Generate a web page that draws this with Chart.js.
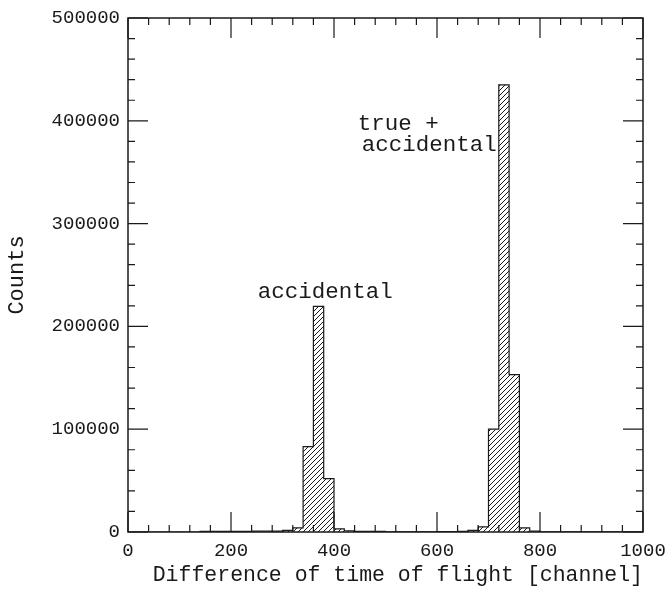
<!DOCTYPE html>
<html>
<head>
<meta charset="utf-8">
<script src="https://cdn.jsdelivr.net/npm/chart.js@4.4.1/dist/chart.umd.min.js"></script>
<style>
  html, body { margin: 0; padding: 0; background: #fff; }
  #wrap { width: 667px; height: 592px; }
</style>
</head>
<body>
<div id="wrap"><canvas id="tofChart" width="667" height="592"></canvas></div>
<script>
// Histogram data: bin left edges [channel] and counts per bin (bin width 20)
const binEdges = [
    0, 20, 40, 60, 80, 100, 120, 140, 160, 180,
    200, 220, 240, 260, 280, 300, 320, 340, 360, 380,
    400, 420, 440, 460, 480, 500, 520, 540, 560, 580,
    600, 620, 640, 660, 680, 700, 720, 740, 760, 780,
    800, 820, 840, 860, 880, 900, 920, 940, 960, 980, 1000
];
const binCounts = [
    0, 0, 0, 0, 0, 0, 0, 600, 600, 700,
    700, 700, 800, 800, 900, 1500, 4000, 83000, 219500, 52000,
    3000, 1200, 700, 600, 600, 200, 200, 200, 200, 200,
    300, 500, 600, 1500, 5000, 100000, 435000, 153000, 4000, 800,
    100, 100, 100, 100, 100, 100, 100, 100, 100, 100
];

// Axis ticks
const xTickLabels = [0, 200, 400, 600, 800, 1000];
const yTickLabels = [0, 100000, 200000, 300000, 400000, 500000];
const xMinorStep = 40;
const yMinorStep = 20000;

// Text labels on the plot
const annotations = [
    { lines: ["accidental"], x: 252, y: 233000 },
    { lines: ["true +", "accidental"], x: 446, y: 397000 }
];

const FONT = "'Liberation Mono', 'DejaVu Sans Mono', monospace";
const INK = "#1a1a1a";

// Build histogram points (value holds from edge to next edge)
const histPoints = binEdges.map((edge, i) => ({
    x: edge,
    y: i < binCounts.length ? binCounts[i] : 0
}));

// Diagonal hatch pattern
function makeHatch() {
    const size = 5;
    const c = document.createElement("canvas");
    c.width = size;
    c.height = size;
    const g = c.getContext("2d");
    g.strokeStyle = INK;
    g.lineWidth = 1;
    g.beginPath();
    g.moveTo(0, size);
    g.lineTo(size, 0);
    g.moveTo(-1, 1);
    g.lineTo(1, -1);
    g.moveTo(size - 1, size + 1);
    g.lineTo(size + 1, size - 1);
    g.stroke();
    return g.createPattern(c, "repeat");
}

// Frame with inward ticks on all four sides + annotations
const framePlugin = {
    id: "frame",
    afterDraw(chart) {
        const { ctx, chartArea: a, scales } = chart;
        const xs = scales.x, ys = scales.y;
        ctx.save();
        ctx.strokeStyle = INK;
        ctx.lineWidth = 1.5;
        ctx.strokeRect(a.left, a.top, a.right - a.left, a.bottom - a.top);

        ctx.lineWidth = 1.2;
        ctx.beginPath();
        for (let v = xs.min; v <= xs.max; v += xMinorStep) {
            const px = xs.getPixelForValue(v);
            const len = xTickLabels.includes(v) ? 20 : 7;
            ctx.moveTo(px, a.bottom); ctx.lineTo(px, a.bottom - len);
            ctx.moveTo(px, a.top); ctx.lineTo(px, a.top + len);
        }
        for (let v = ys.min; v <= ys.max; v += yMinorStep) {
            const py = ys.getPixelForValue(v);
            const len = yTickLabels.includes(v) ? 20 : 7;
            ctx.moveTo(a.left, py); ctx.lineTo(a.left + len, py);
            ctx.moveTo(a.right, py); ctx.lineTo(a.right - len, py);
        }
        ctx.stroke();

        ctx.fillStyle = INK;
        ctx.font = "22.5px " + FONT;
        ctx.textAlign = "left";
        ctx.textBaseline = "middle";
        annotations.forEach((ann) => {
            const px = xs.getPixelForValue(ann.x);
            const py = ys.getPixelForValue(ann.y);
            ann.lines.forEach((line, i) => {
                ctx.fillText(line, px + (i > 0 ? 4 : 0), py + i * 21);
            });
        });
        ctx.restore();
    }
};

const ctx = document.getElementById("tofChart").getContext("2d");
new Chart(ctx, {
    type: "line",
    data: {
        datasets: [{
            data: histPoints,
            stepped: "before",
            borderColor: INK,
            borderWidth: 1.2,
            backgroundColor: makeHatch(),
            fill: "origin",
            pointRadius: 0
        }]
    },
    options: {
        responsive: false,
        animation: false,
        layout: { padding: { top: 18, right: 24, left: 0, bottom: 0 } },
        plugins: { legend: { display: false }, tooltip: { enabled: false } },
        scales: {
            x: {
                type: "linear",
                min: 0,
                max: 1000,
                grid: { display: false, drawTicks: false },
                border: { display: false },
                afterBuildTicks: (s) => { s.ticks = xTickLabels.map((v) => ({ value: v })); },
                afterFit: (s) => { s.height = 60; s.paddingLeft = 0; s.paddingRight = 0; },
                ticks: {
                    color: INK,
                    padding: 8,
                    maxRotation: 0,
                    font: { family: FONT, size: 19 },
                    callback: (v) => String(v)
                },
                title: {
                    display: true,
                    align: "end",
                    text: "Difference of time of flight [channel]",
                    color: INK,
                    font: { family: FONT, size: 21.5 },
                    padding: { top: 0, bottom: 4 }
                }
            },
            y: {
                min: 0,
                max: 500000,
                grid: { display: false, drawTicks: false },
                border: { display: false },
                afterBuildTicks: (s) => { s.ticks = yTickLabels.map((v) => ({ value: v })); },
                afterFit: (s) => { s.width = 128; s.paddingTop = 0; s.paddingBottom = 0; },
                ticks: {
                    color: INK,
                    padding: 8,
                    font: { family: FONT, size: 19 },
                    callback: (v) => String(v)
                },
                title: {
                    display: true,
                    text: "Counts",
                    color: INK,
                    font: { family: FONT, size: 22 },
                    padding: { top: 4, bottom: 0 }
                }
            }
        }
    },
    plugins: [framePlugin]
});
</script>
</body>
</html>
